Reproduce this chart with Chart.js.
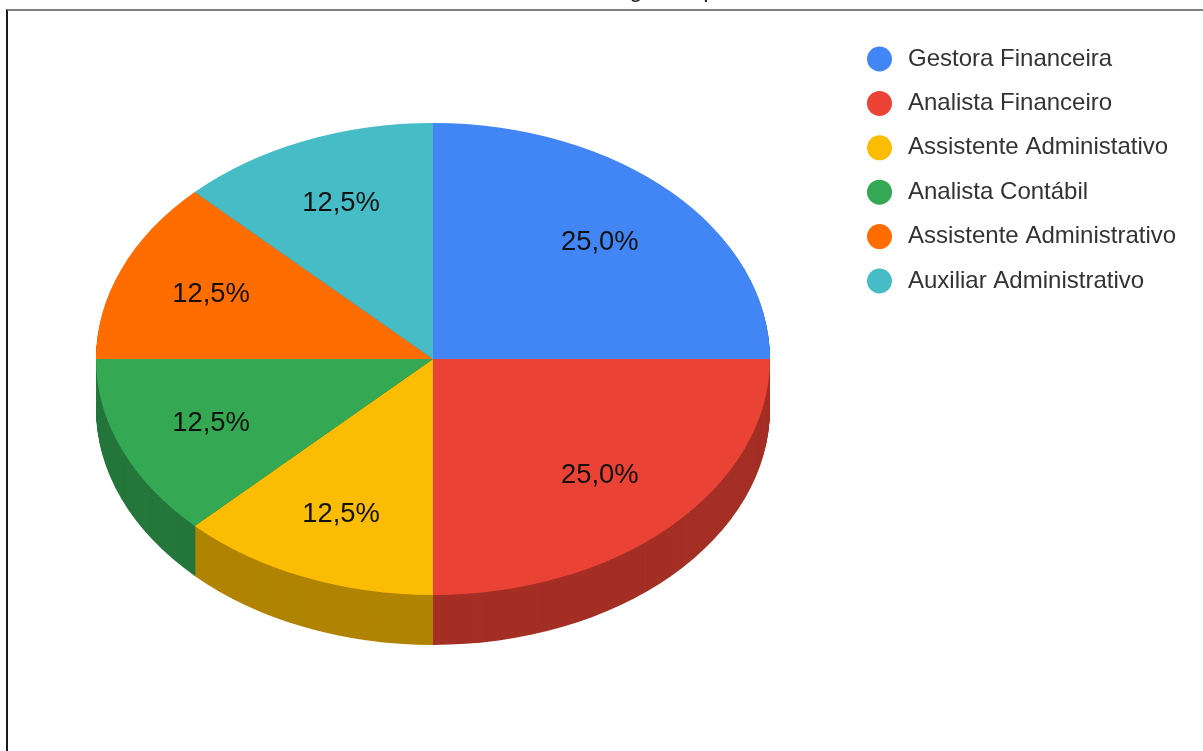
<!DOCTYPE html>
<html>
<head>
<meta charset="utf-8">
<style>
html, body { margin: 0; padding: 0; background: #fff; overflow: hidden; }
#frame { position: absolute; left: 6px; top: 9px; width: 1197px; height: 742px; border-top: 2px solid #808080; border-left: 2px solid #1a1a1a; box-sizing: border-box; }
canvas { position: absolute; left: 0; top: 0; }
</style>
</head>
<body>
<div id="frame"></div>
<canvas id="pie" width="1203" height="751"></canvas>
<script src="https://cdn.jsdelivr.net/npm/chart.js@4/dist/chart.umd.js"></script>
<script>
var categories = ["Gestora Financeira", "Analista Financeiro", "Assistente Administativo", "Analista Contábil", "Assistente Administrativo", "Auxiliar Administrativo"];
var shares = [25, 25, 12.5, 12.5, 12.5, 12.5];
var colors = ['#4285f4', '#ea4335', '#fbbc04', '#34a853', '#ff6d01', '#46bdc6'];
var sideColors = ['#2e5dab', '#a42f25', '#b08403', '#24763b', '#b34c01', '#31848b'];
// the title is cut off by the top of the picture, only these descenders show
var titleLetters = ['g', 'p'];
var titleLetterX = [636, 710];

var cx = 433, cy = 359, radius = 337, squash = 236 / 337, depth = 50;

// the library gives a flat pie, so squash it and stack dark copies below for the rim
var tilt = {
    id: 'tilt',
    beforeDatasetsDraw: function(chart) {
        var ctx = chart.ctx;
        var arcs = chart.getDatasetMeta(0).data;
        for (var d = depth; d > 0; d--) {
            arcs.forEach(function(arc, i) {
                ctx.save();
                ctx.translate(cx, cy + d);
                ctx.scale(1, squash);
                ctx.translate(-cx, -cy);
                ctx.fillStyle = sideColors[i];
                ctx.beginPath();
                ctx.moveTo(arc.x, arc.y);
                ctx.arc(arc.x, arc.y, arc.outerRadius, arc.startAngle, arc.endAngle);
                ctx.closePath();
                ctx.fill();
                ctx.restore();
            });
        }
    },
    beforeDatasetDraw: function(chart) {
        var ctx = chart.ctx;
        ctx.save();
        ctx.translate(cx, cy);
        ctx.scale(1, squash);
        ctx.translate(-cx, -cy);
    },
    afterDatasetDraw: function(chart) {
        chart.ctx.restore();
    },
    afterDatasetsDraw: function(chart) {
        var ctx = chart.ctx;
        var arcs = chart.getDatasetMeta(0).data;
        ctx.save();
        ctx.font = '27.4px "Liberation Sans", Arial, sans-serif';
        ctx.fillStyle = '#111';
        ctx.textAlign = 'center';
        ctx.textBaseline = 'middle';
        arcs.forEach(function(arc, i) {
            var mid = (arc.startAngle + arc.endAngle) / 2;
            // big slices sit a little closer to the centre
            var reach = shares[i] > 20 ? 0.7 : 0.713;
            var x = arc.x + Math.cos(mid) * radius * reach;
            var y = cy + Math.sin(mid) * radius * reach * squash;
            ctx.fillText(shares[i].toFixed(1).replace('.', ',') + '%', x, y);
        });
        ctx.restore();
    },
    afterDraw: function(chart) {
        var ctx = chart.ctx;
        ctx.save();
        ctx.font = '24px "Liberation Sans", Arial, sans-serif';
        ctx.textBaseline = 'middle';
        categories.forEach(function(name, i) {
            var y = 59 + i * 44.4;
            ctx.fillStyle = colors[i];
            ctx.beginPath();
            ctx.arc(879.5, y, 12.5, 0, Math.PI * 2);
            ctx.fill();
            ctx.fillStyle = '#333';
            ctx.fillText(name, 908, y);
        });
        ctx.fillStyle = '#222';
        ctx.textBaseline = 'alphabetic';
        ctx.textAlign = 'center';
        titleLetters.forEach(function(letter, i) {
            ctx.fillText(letter, titleLetterX[i], -3);
        });
        ctx.restore();
    }
};

var chartPie = new Chart(document.getElementById('pie'), {
    type: 'pie',
    data: {
        labels: categories,
        datasets: [{
            data: shares,
            backgroundColor: colors,
            borderWidth: 0
        }]
    },
    options: {
        responsive: false,
        animation: false,
        layout: { padding: { left: cx - radius, top: cy - radius, right: 1203 - cx - radius, bottom: 751 - cy - radius } },
        plugins: { legend: { display: false }, title: { display: false }, tooltip: { enabled: false } }
    },
    plugins: [tilt]
});
</script>
</body>
</html>
